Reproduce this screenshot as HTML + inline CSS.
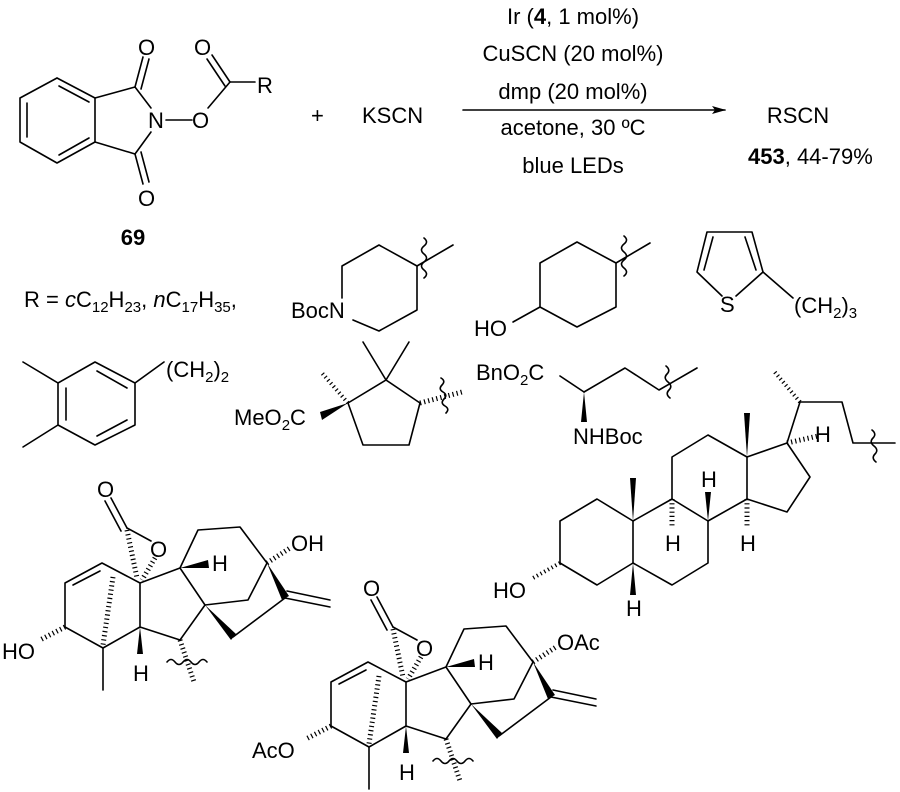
<!DOCTYPE html>
<html><head><meta charset="utf-8"><style>
html,body{margin:0;padding:0;background:#fff}
svg{display:block}
text{font-family:"Liberation Sans",Arial,sans-serif;font-size:22px;fill:#000}
</style></head><body>
<svg width="900" height="792" viewBox="0 0 900 792" xmlns="http://www.w3.org/2000/svg">
<defs>
<marker id="ah" markerWidth="14" markerHeight="8" refX="13" refY="4" orient="auto" markerUnits="userSpaceOnUse"><path d="M0,0 L14,4 L0,8 L3,4 Z" fill="#000"/></marker>
</defs>
<g stroke="#000" stroke-width="1.6" fill="none" stroke-linecap="round" stroke-linejoin="round">
<polyline points="57,78 20,98 20,142 57,163 95,142 95,98 57,78"/>
<line x1="27" y1="103" x2="27" y2="137"/><line x1="59" y1="86" x2="89" y2="102"/><line x1="59" y1="155" x2="89" y2="138"/>
<line x1="95" y1="98" x2="135" y2="87"/><line x1="135" y1="87" x2="151" y2="108"/>
<line x1="95" y1="142" x2="135" y2="154"/><line x1="135" y1="154" x2="151" y2="132"/>
<line x1="135" y1="87" x2="143" y2="57"/><line x1="141" y1="89" x2="149" y2="59"/>
<line x1="135" y1="154" x2="143" y2="184"/><line x1="141" y1="152" x2="149" y2="182"/>
<line x1="166" y1="120" x2="192" y2="120"/>
<line x1="208" y1="108" x2="230" y2="82"/><line x1="230" y1="82" x2="255" y2="82"/>
<line x1="230" y1="82" x2="212" y2="55"/><line x1="225" y1="86" x2="207" y2="59"/>
<line x1="463" y1="110" x2="725" y2="110" marker-end="url(#ah)"/>
<polyline points="342,298 342,266 379,245 417,266 417,310 379,331 353,320"/>
<line x1="417" y1="266" x2="453" y2="245"/>
<path d="M424,238 q5,4 0,8 q-5,4 0,8 q5,4 0,8 q-5,4 0,8 q5,4 0,8"/>
<polygon points="577,242 616,263 616,307 577,327 540,307 540,263"/>
<line x1="540" y1="307" x2="513" y2="322"/><line x1="616" y1="263" x2="650" y2="243"/>
<path d="M624,236 q5,4 0,8 q-5,4 0,8 q5,4 0,8 q-5,4 0,8 q5,4 0,8"/>
<polyline points="722,296 697,272 707,232 752,232 763,272 736,296"/>
<line x1="704" y1="270" x2="713" y2="237"/><line x1="745" y1="237" x2="756" y2="270"/>
<line x1="763" y1="272" x2="793" y2="298"/>
<polygon points="95,362 135,383 135,425 95,445 58,425 58,383"/>
<line x1="66" y1="388" x2="66" y2="420"/><line x1="97" y1="371" x2="127" y2="388"/><line x1="97" y1="436" x2="127" y2="420"/>
<line x1="58" y1="383" x2="23" y2="362"/><line x1="58" y1="425" x2="23" y2="447"/>
<line x1="135" y1="383" x2="164" y2="362"/>
<polygon points="348,403 386,380 420,403 409,445 363,445"/>
<line x1="386" y1="380" x2="363" y2="342"/><line x1="386" y1="380" x2="409" y2="342"/>
<line x1="348" y1="403" x2="322" y2="373" stroke-width="4" stroke-dasharray="1.2 3" stroke-linecap="butt"/>
<line x1="420" y1="403" x2="462" y2="392" stroke-width="5" stroke-dasharray="1.2 3" stroke-linecap="butt"/>
<path d="M441,378 q5,3 1,7 q-4,4 1,7 q5,3 1,7 q-4,4 1,7 q5,3 1,7"/>
<line x1="560" y1="376" x2="584" y2="392"/><polyline points="584,392 625,368 659,390 697,368"/>
<path d="M666,366 q5,4 1,8 q-4,4 1,8 q5,4 1,8 q-4,4 1,8"/>
<polygon points="597,499 560,521 560,563 597,585 633,563 633,521"/>
<polyline points="633,521 672,499 708,521 708,563 672,585 633,563"/>
<polyline points="672,499 672,457 708,435 747,457 747,499 708,521"/>
<polyline points="747,457 787,443 810,477 787,512 747,499"/>
<polyline points="787,443 800,402 842,402 853,443 895,443"/>
<path d="M872,430 q5,4 1,8 q-4,4 1,8 q5,4 1,8 q-4,4 1,8"/>
<line x1="800" y1="402" x2="773" y2="370" stroke-width="4" stroke-dasharray="1.2 3" stroke-linecap="butt"/>
<line x1="787" y1="443" x2="818" y2="436" stroke-width="5" stroke-dasharray="1.2 3" stroke-linecap="butt"/>
<line x1="672" y1="499" x2="672" y2="528" stroke-width="5" stroke-dasharray="1.2 3" stroke-linecap="butt"/>
<line x1="747" y1="499" x2="747" y2="528" stroke-width="5" stroke-dasharray="1.2 3" stroke-linecap="butt"/>
<line x1="560" y1="563" x2="533" y2="578" stroke-width="4" stroke-dasharray="1.2 3" stroke-linecap="butt"/>
</g>
<g fill="#000">
<polygon points="584,392 581,422 587,422"/>
<polygon points="348,403 320,412 322,420"/>
<polygon points="633,521 630,478 636,478"/>
<polygon points="633,563 630,595 636,595"/>
<polygon points="708,521 705,492 711,492"/>
<polygon points="747,457 744,413 750,413"/>
</g>
<g id="gib">
<g stroke="#000" stroke-width="1.6" fill="none" stroke-linecap="round" stroke-linejoin="round">
<line x1="127" y1="528" x2="111" y2="498"/><line x1="121" y1="531" x2="105" y2="501"/>
<line x1="127" y1="528" x2="151" y2="541"/>
<polyline points="140,583 102,563 65,583 65,627 103,648 140,627 140,583 180,568 205,605 180,640 140,627"/>
<line x1="73" y1="585" x2="100" y2="571"/>
<line x1="103" y1="648" x2="103" y2="690"/>
<polyline points="180,568 198,530 240,527 267,563 248,600 205,605"/>
<line x1="285" y1="598" x2="233" y2="637"/>
<line x1="285" y1="598" x2="330" y2="607"/><line x1="287" y1="591" x2="330" y2="600"/>
<line x1="127" y1="530" x2="137" y2="578" stroke-width="5" stroke-dasharray="1.2 3" stroke-linecap="butt"/>
<line x1="155" y1="558" x2="142" y2="580" stroke-width="5" stroke-dasharray="1.2 3" stroke-linecap="butt"/>
<line x1="113" y1="577" x2="103" y2="645" stroke-width="5" stroke-dasharray="1.2 3" stroke-linecap="butt"/>
<line x1="65" y1="627" x2="40" y2="640" stroke-width="5" stroke-dasharray="1.2 3" stroke-linecap="butt"/>
<line x1="267" y1="563" x2="290" y2="548" stroke-width="5" stroke-dasharray="1.2 3" stroke-linecap="butt"/>
<line x1="180" y1="640" x2="194" y2="682" stroke-width="5" stroke-dasharray="1.2 3" stroke-linecap="butt"/>
<path d="M167,662 q4,-5 8,0 q4,5 8,0 q4,-5 8,0 q4,5 8,0 q4,-5 8,0"/>
</g>
<g fill="#000">
<polygon points="180,568 208,560 209,568"/>
<polygon points="140,627 137,654 143,654"/>
<polygon points="267,563 282,600 289,596"/>
<polygon points="205,605 231,640 236,634"/>
</g>
</g>
<use href="#gib" transform="translate(266,99)"/>
<text x="138" y="55">O</text><text x="194" y="55">O</text>
<text x="148" y="128">N</text><text x="192" y="128">O</text>
<text x="138" y="206">O</text><text x="257" y="93">R</text>
<text x="311" y="123">+</text><text x="362" y="123">KSCN</text>
<text x="133" y="245" font-weight="bold" text-anchor="middle">69</text>
<g text-anchor="middle">
<text x="573" y="24">Ir (<tspan font-weight="bold">4</tspan>, 1 mol%)</text>
<text x="573" y="61">CuSCN (20 mol%)</text>
<text x="573" y="99">dmp (20 mol%)</text>
<text x="573" y="135">acetone, 30 ºC</text>
<text x="573" y="173">blue LEDs</text>
<text x="798" y="123">RSCN</text>
</g>
<text x="748" y="164"><tspan font-weight="bold">453</tspan>, 44-79%</text>
<text x="24" y="307">R = <tspan font-style="italic">c</tspan>C<tspan font-size="15" dy="5">12</tspan><tspan dy="-5">H</tspan><tspan font-size="15" dy="5">23</tspan><tspan dy="-5">, </tspan><tspan font-style="italic">n</tspan>C<tspan font-size="15" dy="5">17</tspan><tspan dy="-5">H</tspan><tspan font-size="15" dy="5">35</tspan><tspan dy="-5">,</tspan></text>
<text x="291" y="318">BocN</text>
<text x="474" y="336">HO</text>
<text x="720" y="312">S</text>
<text x="794" y="313">(CH<tspan font-size="15" dy="5">2</tspan><tspan dy="-5">)</tspan><tspan font-size="15" dy="5">3</tspan></text>
<text x="166" y="377">(CH<tspan font-size="15" dy="5">2</tspan><tspan dy="-5">)</tspan><tspan font-size="15" dy="5">2</tspan></text>
<text x="234" y="425">MeO<tspan font-size="15" dy="5">2</tspan><tspan dy="-5">C</tspan></text>
<text x="476" y="380">BnO<tspan font-size="15" dy="5">2</tspan><tspan dy="-5">C</tspan></text>
<text x="573" y="444">NHBoc</text>
<text x="815" y="442">H</text>
<text x="665" y="551">H</text><text x="740" y="551">H</text>
<text x="701" y="487">H</text><text x="626" y="616">H</text>
<text x="493" y="598">HO</text>
<text x="97" y="497">O</text><text x="150" y="557">O</text>
<text x="212" y="571">H</text><text x="133" y="681">H</text>
<text x="291" y="551">OH</text><text x="2" y="659">HO</text>
<text x="363" y="596">O</text><text x="416" y="656">O</text>
<text x="478" y="670">H</text><text x="399" y="780">H</text>
<text x="557" y="650">OAc</text><text x="252" y="758">AcO</text>
</svg>
</body></html>
